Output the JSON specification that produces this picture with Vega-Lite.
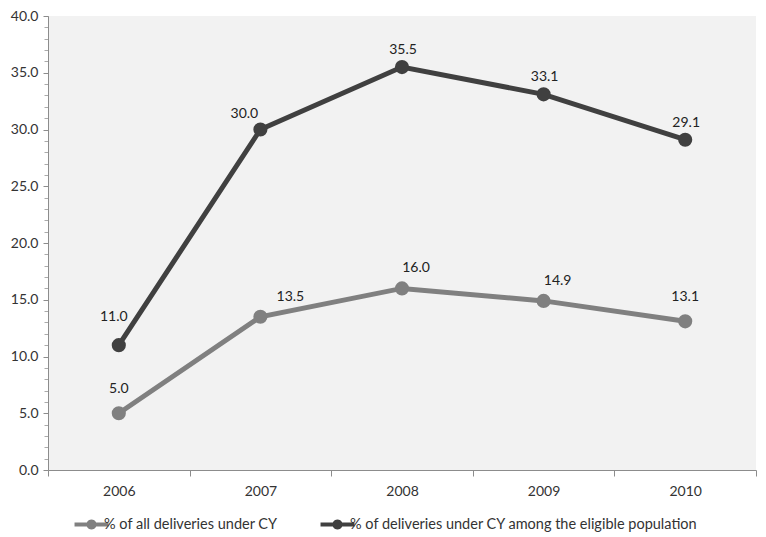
{
  "$schema": "https://vega.github.io/schema/vega-lite/v6.json",
  "width": 708,
  "height": 454,
  "autosize": "none",
  "padding": {"left": 48, "top": 16, "right": 10, "bottom": 67},
  "background": "white",
  "config": {
    "view": {"fill": "#f2f2f2", "stroke": null},
    "font": "Lato",
    "axis": {"labelFont": "Lato", "labelFontSize": 14, "labelColor": "#333333", "domainColor": "#8c8c8c", "tickColor": "#8c8c8c", "grid": false, "title": null}
  },
  "data": {
    "values": [
      {"year": "2006", "series": "% of all deliveries under CY", "value": 5.0},
      {"year": "2007", "series": "% of all deliveries under CY", "value": 13.5},
      {"year": "2008", "series": "% of all deliveries under CY", "value": 16.0},
      {"year": "2009", "series": "% of all deliveries under CY", "value": 14.9},
      {"year": "2010", "series": "% of all deliveries under CY", "value": 13.1},
      {"year": "2006", "series": "% of deliveries under CY among the eligible population", "value": 11.0},
      {"year": "2007", "series": "% of deliveries under CY among the eligible population", "value": 30.0},
      {"year": "2008", "series": "% of deliveries under CY among the eligible population", "value": 35.5},
      {"year": "2009", "series": "% of deliveries under CY among the eligible population", "value": 33.1},
      {"year": "2010", "series": "% of deliveries under CY among the eligible population", "value": 29.1}
    ]
  },
  "resolve": {"axis": {"y": "independent"}},
  "encoding": {
    "x": {"field": "year", "type": "ordinal", "scale": {"paddingInner": 0, "paddingOuter": 0},
      "axis": {"labelAngle": 0, "tickBand": "extent", "tickSize": 6, "labelPadding": 8}},
    "y": {"field": "value", "type": "quantitative", "scale": {"domain": [0, 40], "nice": false}, "axis": null}
  },
  "layer": [
    {
      "mark": {"type": "rule"},
      "data": {"values": [{"v": 0}]},
      "encoding": {
        "x": null,
        "y": {"field": "v", "type": "quantitative", "scale": {"domain": [0, 40], "nice": false},
          "axis": {"orient": "left", "values": [0,1,2,3,4,5,6,7,8,9,10,11,12,13,14,15,16,17,18,19,20,21,22,23,24,25,26,27,28,29,30,31,32,33,34,35,36,37,38,39,40], "labels": false, "domain": false, "tickSize": 4, "tickColor": "#aaaaaa"}},
        "opacity": {"value": 0}
      }
    },
    {
      "mark": {"type": "line", "strokeWidth": 5},
      "encoding": {
        "color": {"field": "series", "type": "nominal",
          "scale": {"domain": ["% of all deliveries under CY", "% of deliveries under CY among the eligible population"], "range": ["#808080", "#404040"]},
          "legend": {"orient": "none", "legendX": 32, "legendY": 497, "direction": "horizontal", "title": null, "labelFont": "Lato", "labelFontSize": 14.5, "labelColor": "#333333", "columnPadding": 42, "labelOffset": 1, "labelLimit": 500,
            "symbolType": "M-1.5,-0.18H-0.412A0.45,0.45 0 0 1 0.412,-0.18H1.5V0.18H0.412A0.45,0.45 0 0 1 -0.412,0.18H-1.5Z",
            "symbolSize": 512, "symbolStrokeWidth": 0,
            "encode": {"symbols": {"update": {"fill": {"scale": "color", "field": "value"}, "strokeWidth": {"value": 0}}}}}
        },
        "y": {"field": "value", "type": "quantitative", "scale": {"domain": [0, 40], "nice": false},
          "axis": {"orient": "left", "values": [0,5,10,15,20,25,30,35,40], "format": ".1f", "tickSize": 5, "labelPadding": 5}}
      }
    },
    {
      "mark": {"type": "point", "filled": true, "size": 200, "opacity": 1},
      "encoding": {
        "color": {"field": "series", "type": "nominal", "legend": null}
      }
    },
    {
      "transform": [{"filter": "datum.series == '% of deliveries under CY among the eligible population' && datum.year == '2006'"}],
      "mark": {"type": "text", "fontSize": 14, "color": "#222222", "dx": -5, "dy": -28, "baseline": "middle"},
      "encoding": {"text": {"field": "value", "type": "quantitative", "format": ".1f"}}
    },
    {
      "transform": [{"filter": "datum.series == '% of deliveries under CY among the eligible population' && datum.year == '2007'"}],
      "mark": {"type": "text", "fontSize": 14, "color": "#222222", "dx": -16, "dy": -16, "baseline": "middle"},
      "encoding": {"text": {"field": "value", "type": "quantitative", "format": ".1f"}}
    },
    {
      "transform": [{"filter": "datum.series == '% of deliveries under CY among the eligible population' && datum.year >= '2008'"}],
      "mark": {"type": "text", "fontSize": 14, "color": "#222222", "dx": 1, "dy": -17, "baseline": "middle"},
      "encoding": {"text": {"field": "value", "type": "quantitative", "format": ".1f"}}
    },
    {
      "transform": [{"filter": "datum.series == '% of all deliveries under CY' && (datum.year == '2006' || datum.year == '2010')"}],
      "mark": {"type": "text", "fontSize": 14, "color": "#222222", "dx": 0, "dy": -24, "baseline": "middle"},
      "encoding": {"text": {"field": "value", "type": "quantitative", "format": ".1f"}}
    },
    {
      "transform": [{"filter": "datum.series == '% of all deliveries under CY' && datum.year == '2007'"}],
      "mark": {"type": "text", "fontSize": 14, "color": "#222222", "dx": 30, "dy": -20, "baseline": "middle"},
      "encoding": {"text": {"field": "value", "type": "quantitative", "format": ".1f"}}
    },
    {
      "transform": [{"filter": "datum.series == '% of all deliveries under CY' && (datum.year == '2008' || datum.year == '2009')"}],
      "mark": {"type": "text", "fontSize": 14, "color": "#222222", "dx": 14, "dy": -20, "baseline": "middle"},
      "encoding": {"text": {"field": "value", "type": "quantitative", "format": ".1f"}}
    }
  ]
}
